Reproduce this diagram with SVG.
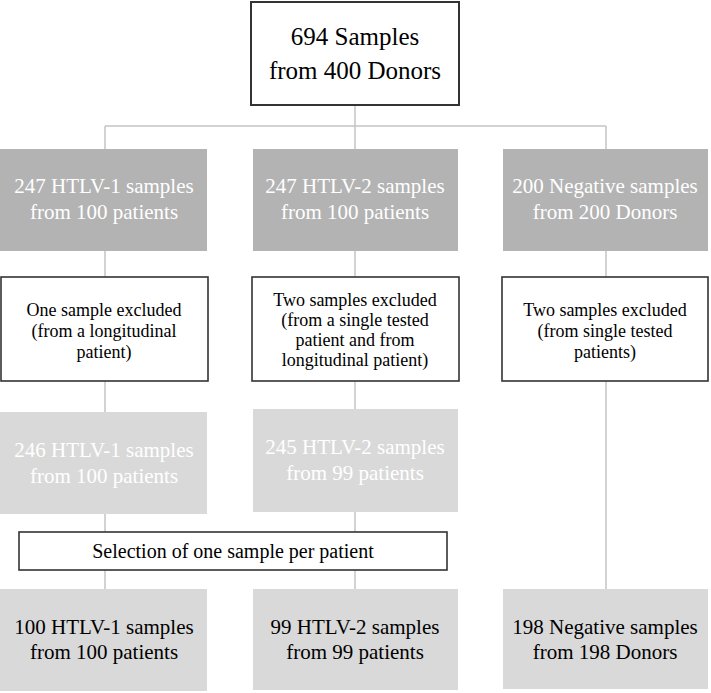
<svg xmlns="http://www.w3.org/2000/svg" width="711" height="693" viewBox="0 0 711 693">
<rect width="711" height="693" fill="#fff"/>
<g id="connectors" stroke="#c4c4c4" stroke-width="1.5">
<line x1="355" y1="105" x2="355" y2="126"/>
<line x1="105" y1="126" x2="606" y2="126"/>
<line x1="105" y1="126" x2="105" y2="149"/>
<line x1="355" y1="126" x2="355" y2="149"/>
<line x1="606" y1="126" x2="606" y2="149"/>
<line x1="105" y1="251" x2="105" y2="277"/>
<line x1="355" y1="251" x2="355" y2="277"/>
<line x1="606" y1="251" x2="606" y2="277"/>
<line x1="105" y1="381" x2="105" y2="412"/>
<line x1="355" y1="381" x2="355" y2="409"/>
<line x1="606" y1="381" x2="606" y2="589"/>
<line x1="105" y1="514" x2="105" y2="532"/>
<line x1="355" y1="512" x2="355" y2="532"/>
<line x1="105" y1="570" x2="105" y2="589"/>
<line x1="355" y1="570" x2="355" y2="589"/>
</g>
<g id="top">
<rect x="251" y="2" width="208" height="103" fill="#fff" stroke="#333" stroke-width="2"/>
<text x="355" y="45" style="font-family:'Times New Roman','Liberation Serif',serif;font-size:25px;text-anchor:middle;fill:#000">694 Samples</text>
<text x="355" y="79" style="font-family:'Times New Roman','Liberation Serif',serif;font-size:25px;text-anchor:middle;fill:#000">from 400 Donors</text>
</g>
<g id="r1a">
<rect x="0" y="149" width="207" height="102" fill="#b3b3b3"/>
<text x="104" y="193" style="font-family:'Times New Roman','Liberation Serif',serif;font-size:21px;text-anchor:middle;fill:#fff">247 HTLV-1 samples</text>
<text x="104" y="219" style="font-family:'Times New Roman','Liberation Serif',serif;font-size:21px;text-anchor:middle;fill:#fff">from 100 patients</text>
</g>
<g id="r1b">
<rect x="253" y="149" width="205" height="102" fill="#b3b3b3"/>
<text x="355" y="193" style="font-family:'Times New Roman','Liberation Serif',serif;font-size:21px;text-anchor:middle;fill:#fff">247 HTLV-2 samples</text>
<text x="355" y="219" style="font-family:'Times New Roman','Liberation Serif',serif;font-size:21px;text-anchor:middle;fill:#fff">from 100 patients</text>
</g>
<g id="r1c">
<rect x="503" y="149" width="205" height="102" fill="#b3b3b3"/>
<text x="605" y="193" style="font-family:'Times New Roman','Liberation Serif',serif;font-size:21px;text-anchor:middle;fill:#fff">200 Negative samples</text>
<text x="605" y="219" style="font-family:'Times New Roman','Liberation Serif',serif;font-size:21px;text-anchor:middle;fill:#fff">from 200 Donors</text>
</g>
<g id="r2a">
<rect x="1" y="277" width="207" height="104" fill="#fff" stroke="#333" stroke-width="1.6"/>
<text x="104" y="316" style="font-family:'Times New Roman','Liberation Serif',serif;font-size:18px;text-anchor:middle;fill:#000">One sample excluded</text>
<text x="104" y="337" style="font-family:'Times New Roman','Liberation Serif',serif;font-size:18px;text-anchor:middle;fill:#000">(from a longitudinal</text>
<text x="104" y="358" style="font-family:'Times New Roman','Liberation Serif',serif;font-size:18px;text-anchor:middle;fill:#000">patient)</text>
</g>
<g id="r2b">
<rect x="252" y="277" width="207" height="104" fill="#fff" stroke="#333" stroke-width="1.6"/>
<text x="355" y="306" style="font-family:'Times New Roman','Liberation Serif',serif;font-size:18px;text-anchor:middle;fill:#000">Two samples excluded</text>
<text x="355" y="326" style="font-family:'Times New Roman','Liberation Serif',serif;font-size:18px;text-anchor:middle;fill:#000">(from a single tested</text>
<text x="355" y="346" style="font-family:'Times New Roman','Liberation Serif',serif;font-size:18px;text-anchor:middle;fill:#000">patient and from</text>
<text x="355" y="366" style="font-family:'Times New Roman','Liberation Serif',serif;font-size:18px;text-anchor:middle;fill:#000">longitudinal patient)</text>
</g>
<g id="r2c">
<rect x="502" y="277" width="206" height="104" fill="#fff" stroke="#333" stroke-width="1.6"/>
<text x="605" y="316" style="font-family:'Times New Roman','Liberation Serif',serif;font-size:18px;text-anchor:middle;fill:#000">Two samples excluded</text>
<text x="605" y="337" style="font-family:'Times New Roman','Liberation Serif',serif;font-size:18px;text-anchor:middle;fill:#000">(from single tested</text>
<text x="605" y="358" style="font-family:'Times New Roman','Liberation Serif',serif;font-size:18px;text-anchor:middle;fill:#000">patients)</text>
</g>
<g id="r3a">
<rect x="0" y="412" width="207" height="102" fill="#d9d9d9"/>
<text x="104" y="457" style="font-family:'Times New Roman','Liberation Serif',serif;font-size:21px;text-anchor:middle;fill:#fff">246 HTLV-1 samples</text>
<text x="104" y="483" style="font-family:'Times New Roman','Liberation Serif',serif;font-size:21px;text-anchor:middle;fill:#fff">from 100 patients</text>
</g>
<g id="r3b">
<rect x="253" y="409" width="205" height="103" fill="#d9d9d9"/>
<text x="355" y="454" style="font-family:'Times New Roman','Liberation Serif',serif;font-size:21px;text-anchor:middle;fill:#fff">245 HTLV-2 samples</text>
<text x="355" y="480" style="font-family:'Times New Roman','Liberation Serif',serif;font-size:21px;text-anchor:middle;fill:#fff">from 99 patients</text>
</g>
<g id="sel">
<rect x="19" y="532" width="428" height="38" fill="#fff" stroke="#333" stroke-width="1.6"/>
<text x="233" y="558" style="font-family:'Times New Roman','Liberation Serif',serif;font-size:20px;text-anchor:middle;fill:#000">Selection of one sample per patient</text>
</g>
<g id="r4a">
<rect x="0" y="589" width="207" height="102" fill="#d9d9d9"/>
<text x="104" y="634" style="font-family:'Times New Roman','Liberation Serif',serif;font-size:21px;text-anchor:middle;fill:#000">100 HTLV-1 samples</text>
<text x="104" y="659" style="font-family:'Times New Roman','Liberation Serif',serif;font-size:21px;text-anchor:middle;fill:#000">from 100 patients</text>
</g>
<g id="r4b">
<rect x="253" y="589" width="205" height="101" fill="#d9d9d9"/>
<text x="355" y="634" style="font-family:'Times New Roman','Liberation Serif',serif;font-size:21px;text-anchor:middle;fill:#000">99 HTLV-2 samples</text>
<text x="355" y="659" style="font-family:'Times New Roman','Liberation Serif',serif;font-size:21px;text-anchor:middle;fill:#000">from 99 patients</text>
</g>
<g id="r4c">
<rect x="503" y="589" width="205" height="100" fill="#d9d9d9"/>
<text x="605" y="634" style="font-family:'Times New Roman','Liberation Serif',serif;font-size:21px;text-anchor:middle;fill:#000">198 Negative samples</text>
<text x="605" y="659" style="font-family:'Times New Roman','Liberation Serif',serif;font-size:21px;text-anchor:middle;fill:#000">from 198 Donors</text>
</g>
</svg>
